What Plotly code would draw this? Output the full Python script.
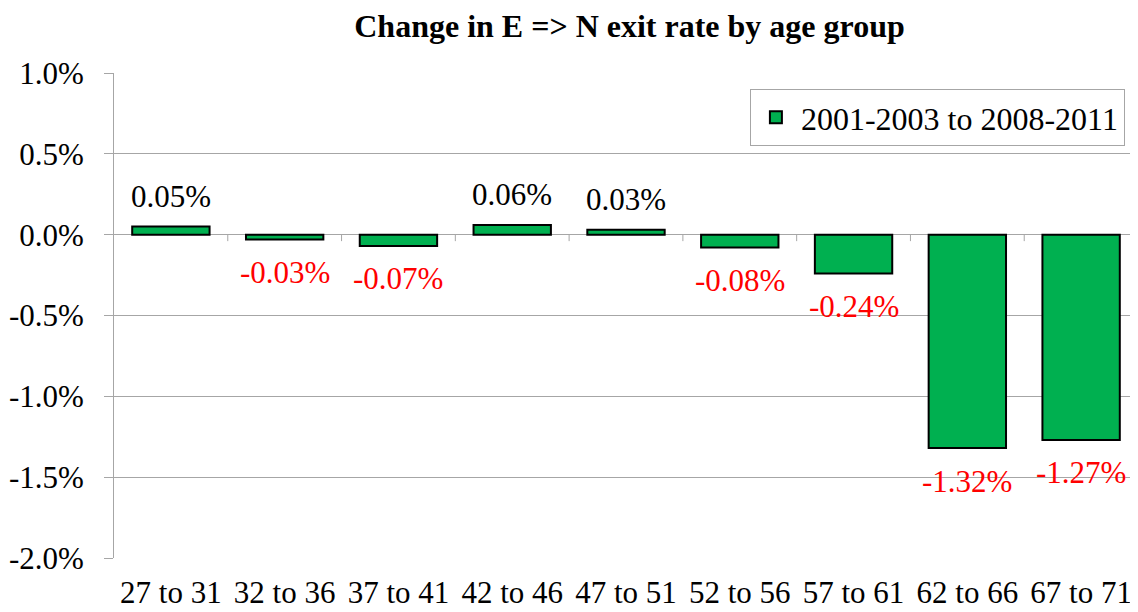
import plotly.graph_objects as go

age_groups = ["27 to 31", "32 to 36", "37 to 41", "42 to 46", "47 to 51",
              "52 to 56", "57 to 61", "62 to 66", "67 to 71"]
change_pct = [0.05, -0.03, -0.07, 0.06, 0.03, -0.08, -0.24, -1.32, -1.27]
series_name = "2001-2003 to 2008-2011"
y_ticks = [1.0, 0.5, 0.0, -0.5, -1.0, -1.5, -2.0]
y_tick_labels = ["1.0%", "0.5%", "0.0%", "-0.5%", "-1.0%", "-1.5%", "-2.0%"]

serif = "Liberation Serif, Times New Roman, serif"
grid = "#a6a6a6"
fs = 31

fig = go.Figure()
fig.add_trace(go.Bar(
    x=age_groups, y=change_pct, name=series_name,
    marker=dict(color="#00b050", line=dict(color="black", width=2)),
    showlegend=True,
))

# value labels, black above positive bars, red below negative ones
for g, v in zip(age_groups, change_pct):
    fig.add_annotation(
        x=g, y=v, text=f"{v:.2f}%", showarrow=False,
        yshift=30 if v > 0 else -33,
        font=dict(family=serif, size=fs, color="black" if v > 0 else "red"),
    )

# small tick marks on the zero line between categories
for i in range(len(age_groups) - 1):
    fig.add_shape(type="line", xref="x", yref="y", x0=i + 0.5, x1=i + 0.5,
                  y0=0, y1=-0.04, line=dict(color=grid, width=1))

# the page body adds an 8px offset, so the figure is sized to compensate
fig.update_layout(
    width=1130, height=604,
    margin=dict(l=106, r=0, t=65, b=54),
    paper_bgcolor="white", plot_bgcolor="white",
    bargap=0.32,
    title=dict(text="<b>Change in E => N exit rate by age group</b>",
               x=0.55, xanchor="center", y=0.97, yanchor="middle",
               font=dict(family=serif, size=32, color="black")),
    font=dict(family=serif, size=fs, color="black"),
    legend=dict(x=0.621, y=0.967, xanchor="left", yanchor="top",
                bordercolor=grid, borderwidth=1, bgcolor="white",
                font=dict(family=serif, size=32), itemwidth=40),
)
fig.update_yaxes(range=[-2.0, 1.0], tickvals=y_ticks, ticktext=y_tick_labels,
                 showgrid=True, gridcolor=grid, gridwidth=1,
                 zeroline=True, zerolinecolor=grid, zerolinewidth=1,
                 showline=True, linecolor=grid, linewidth=1,
                 ticks="outside", ticklen=9, tickcolor=grid,
                 ticklabelstandoff=14,
                 tickfont=dict(family=serif, size=fs))
fig.update_xaxes(showline=False, showgrid=False, ticks="",
                 ticklabelstandoff=13,
                 tickfont=dict(family=serif, size=fs))

fig.write_html("out.html")
